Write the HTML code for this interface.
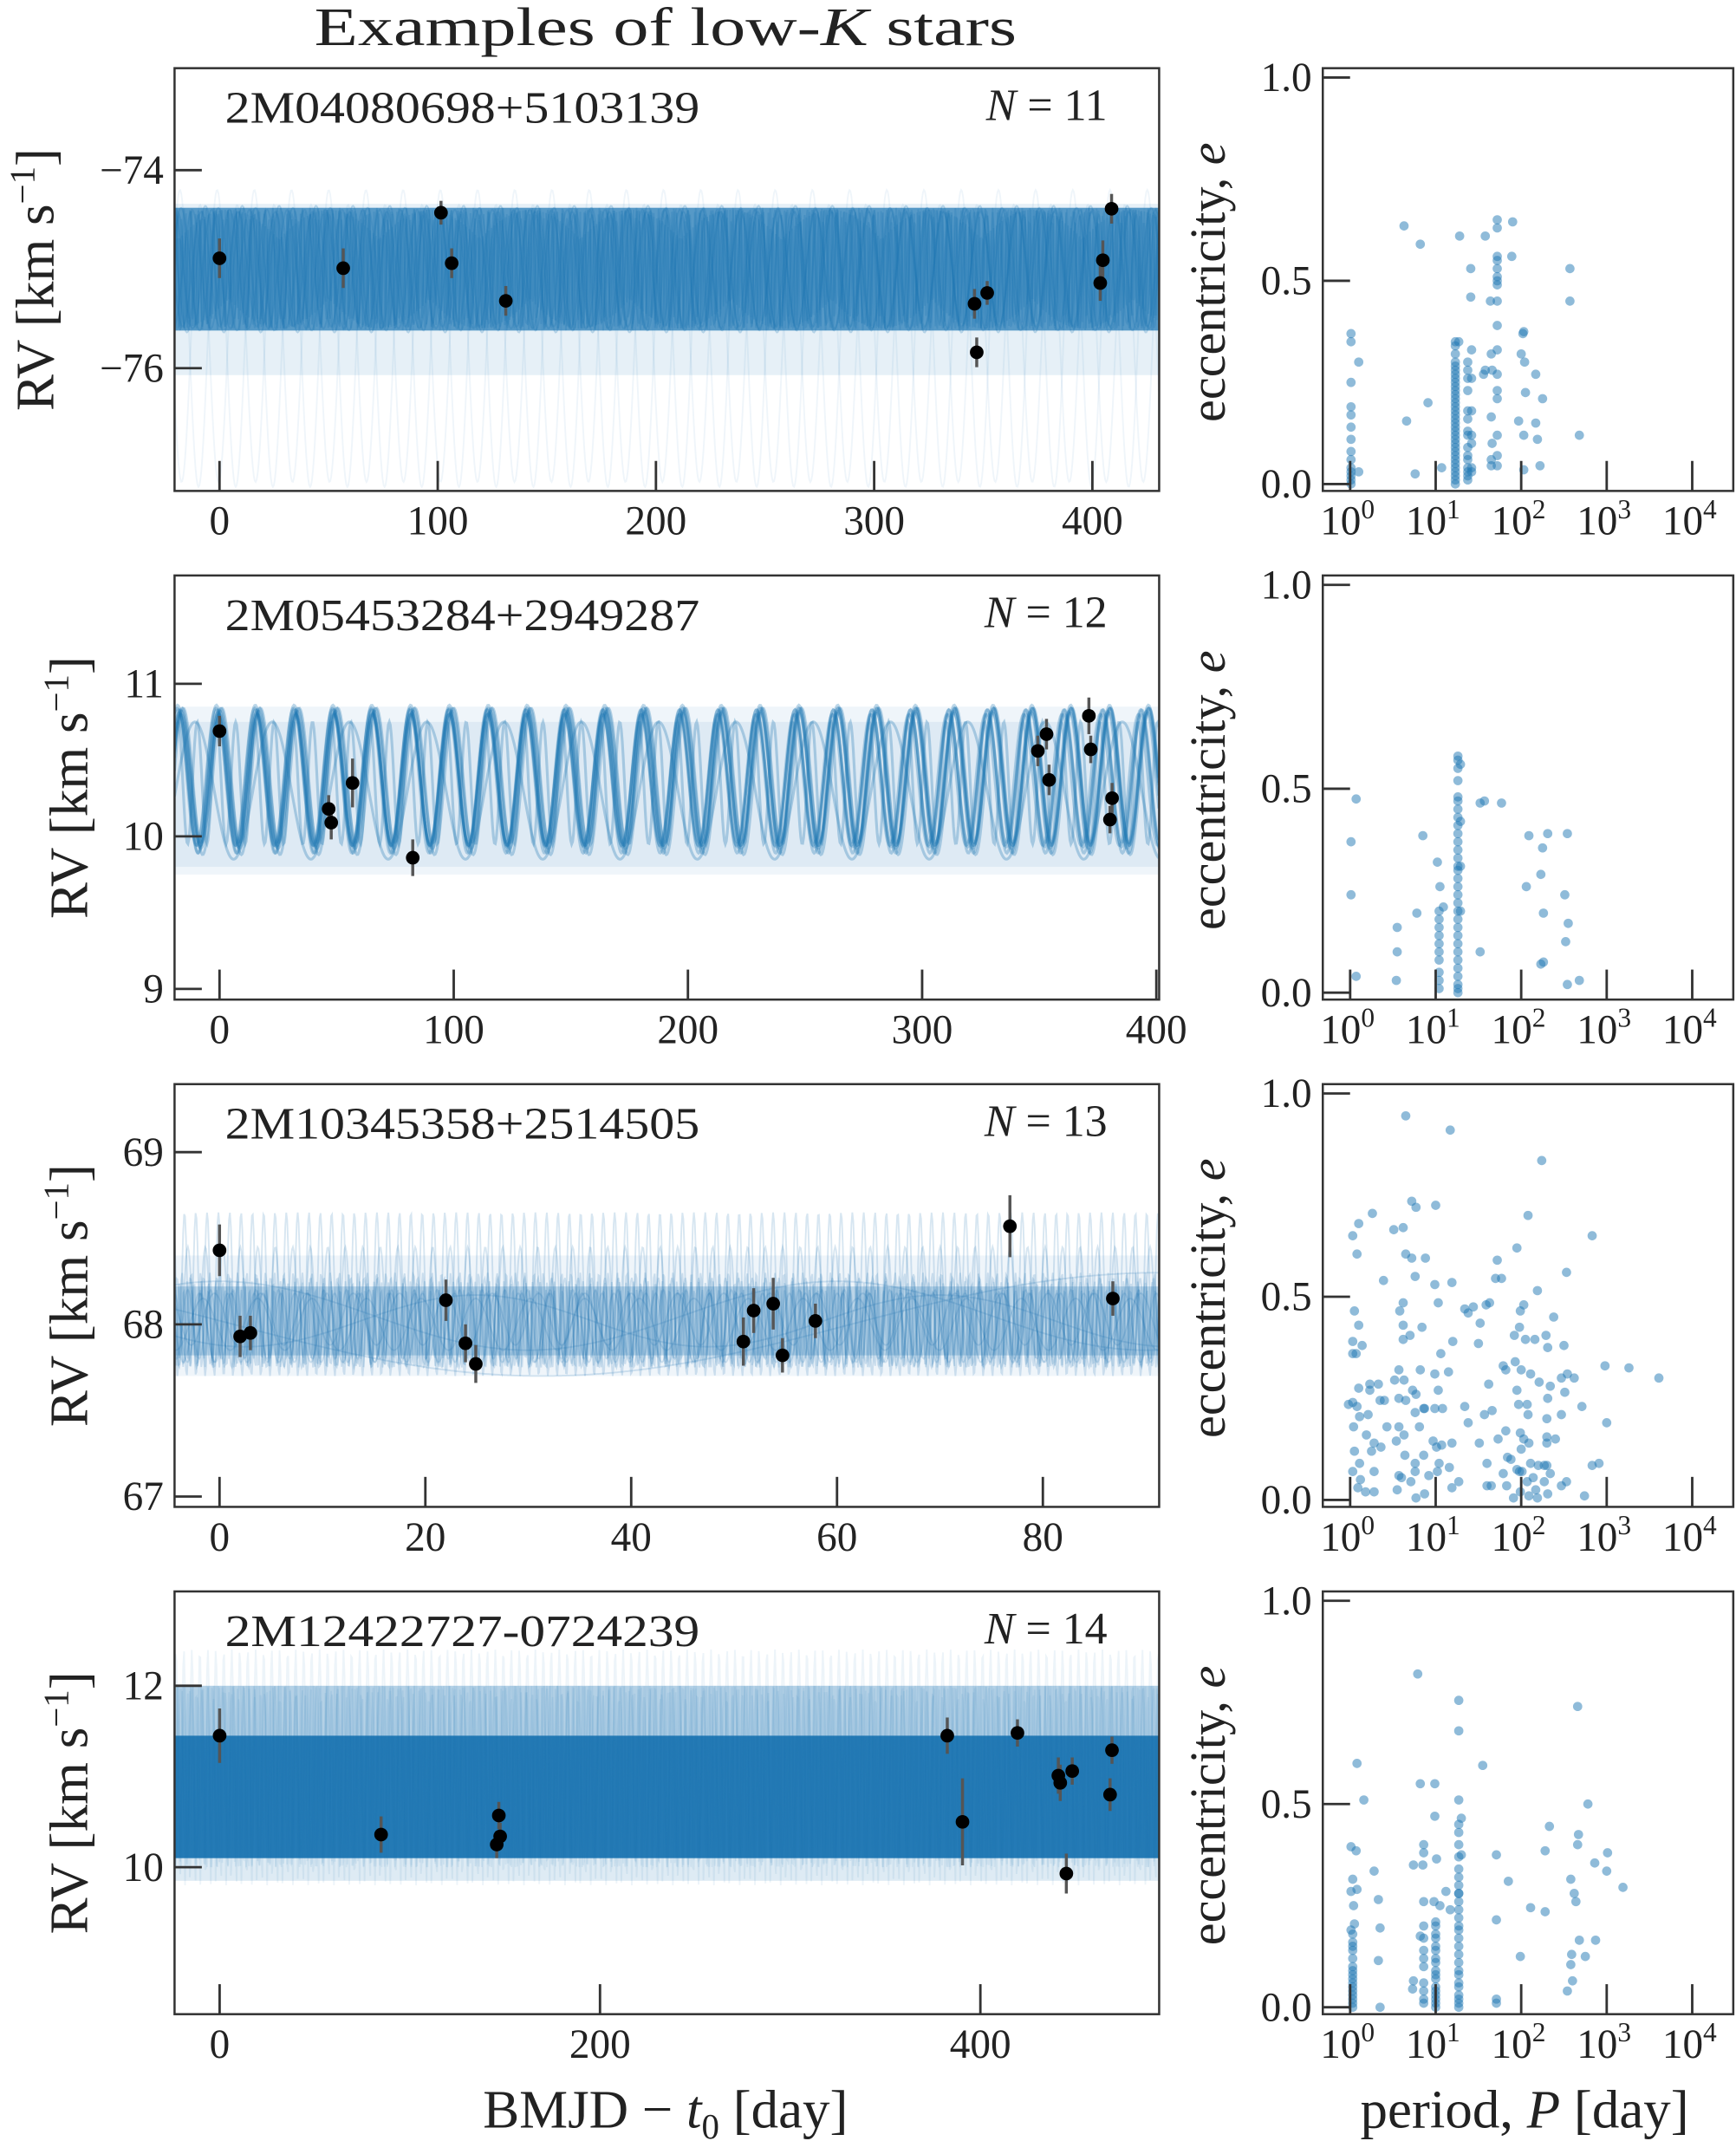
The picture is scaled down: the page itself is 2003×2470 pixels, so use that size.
<!DOCTYPE html>
<html><head><meta charset="utf-8">
<style>
html,body{margin:0;padding:0;background:#fff;}
svg{display:block;}
text{font-family:"Liberation Serif",serif;fill:#222;}
</style></head>
<body>
<svg id="fig" xmlns="http://www.w3.org/2000/svg" width="2003" height="2470" viewBox="0 0 1273 1570" preserveAspectRatio="none">
<text x="488" y="33" font-size="40" text-anchor="middle" textLength="515" lengthAdjust="spacingAndGlyphs">Examples of low-<tspan font-style="italic">K</tspan> stars</text>
<text x="488" y="1560" font-size="40" text-anchor="middle">BMJD − <tspan font-style="italic">t</tspan><tspan font-size="26" dy="8">0</tspan><tspan dy="-8"> [day]</tspan></text>
<text x="1118" y="1560" font-size="40" text-anchor="middle">period, <tspan font-style="italic">P</tspan> [day]</text>
<g id="plots"></g>
</svg>
<script>
// ---------- Data: RV observations ----------
const p1_t   = [0, 56.7, 101.5, 106.4, 131.2, 346, 351.8, 347, 404.8, 403.6, 408.8];
const p1_rv  = [-74.89, -74.99, -74.43, -74.94, -75.32, -75.35, -75.24, -75.84, -74.91, -75.14, -74.39];
const p1_err = [0.2, 0.2, 0.12, 0.15, 0.15, 0.15, 0.12, 0.15, 0.2, 0.18, 0.15];
const p2_t   = [0, 46.6, 47.7, 56.8, 82.5, 349.4, 353.1, 354.2, 371.2, 372, 381.1, 380.2];
const p2_rv  = [10.69, 10.18, 10.09, 10.35, 9.86, 10.56, 10.67, 10.37, 10.79, 10.57, 10.25, 10.11];
const p2_err = [0.1, 0.09, 0.11, 0.16, 0.12, 0.1, 0.1, 0.1, 0.12, 0.09, 0.1, 0.09];
const p3_t   = [0, 2, 3, 22, 23.9, 24.9, 50.9, 51.9, 53.8, 54.7, 57.9, 76.8, 86.8];
const p3_rv  = [68.43, 67.93, 67.95, 68.14, 67.89, 67.77, 67.90, 68.08, 68.12, 67.82, 68.02, 68.57, 68.15];
const p3_err = [0.15, 0.12, 0.1, 0.12, 0.11, 0.11, 0.14, 0.13, 0.15, 0.1, 0.1, 0.18, 0.1];
const p4_t   = [0, 84.9, 146.8, 147.5, 145.7, 382.6, 390.6, 419.5, 441, 442, 448.3, 445.2, 469.2, 468.2];
const p4_rv  = [11.45, 10.36, 10.57, 10.34, 10.25, 11.45, 10.50, 11.48, 11.01, 10.93, 11.06, 9.93, 11.29, 10.80];
const p4_err = [0.3, 0.2, 0.15, 0.15, 0.15, 0.2, 0.48, 0.15, 0.2, 0.2, 0.15, 0.22, 0.15, 0.18];

// ---------- Data: model sample bands and curves ----------
const p1_band = [-75.62, -74.38]; const p1_light = [-76.07, -74.34];
const p1_per = [17.1, 17.3, 16.9, 17.0, 17.2, 8.6, 5.7, 3.4, 2.1, 17.05, 16.95, 1.3];
const p1_amp = [0.62, 0.6, 0.64, 0.58, 0.6, 0.55, 0.6, 0.62, 0.58, 1.5, 1.4, 0.6];
const p1_phs = [0.2, 1.3, 2.4, 3.1, 4.6, 0.9, 2.2, 5.0, 1.7, 0.4, 3.3, 0.0];
const p1_off = [-75.0, -75.0, -75.0, -75.0, -75.0, -75.0, -75.0, -75.0, -75.0, -75.7, -75.75, -75.0];
const p2_band = [9.8, 10.75]; const p2_light = [9.75, 10.85];
const p2_per = [16.4, 16.45, 16.5, 16.55, 16.35, 16.6, 16.5, 16.42, 16.58, 16.48, 8.2, 33];
const p2_amp = [0.45, 0.47, 0.44, 0.46, 0.43, 0.45, 0.48, 0.42, 0.46, 0.45, 0.4, 0.45];
const p2_phs = [0.1, 0.4, -0.2, 0.3, 0.0, 0.6, -0.4, 0.2, 0.5, -0.1, 1.0, 2.0];
const p2_off = [10.38, 10.36, 10.4, 10.35, 10.37, 10.39, 10.36, 10.38, 10.4, 10.37, 10.35, 10.3];
const p3_band = [67.82, 68.22]; const p3_light = [67.7, 68.4];
const p3_per = [0.9, 1.3, 2.2, 3.1, 4.5, 1.7, 0.7, 60, 120, 45, 2.6, 5.3, 1.1, 0.8];
const p3_amp = [0.3, 0.25, 0.2, 0.2, 0.15, 0.35, 0.25, 0.2, 0.3, 0.15, 0.2, 0.15, 0.45, 0.2];
const p3_phs = [0.3, 1.2, 2.5, 4.0, 0.7, 5.1, 3.3, 0.0, 1.5, 2.8, 4.4, 1.9, 0.6, 2.2];
const p3_off = [68.0, 68.02, 68.0, 67.98, 68.03, 68.1, 68.0, 68.05, 68.0, 68.02, 67.98, 68.0, 68.2, 68.0];
const p4_band = [10.1, 11.45]; const p4_light = [9.85, 12.0];
const p4_per = [3.1, 2.7, 4.2, 5.5];
const p4_amp = [1.0, 1.1, 1.2, 1.0];
const p4_phs = [0.0, 1.5, 3.0, 4.5];
const p4_off = [11.0, 10.9, 11.2, 11.0];

// ---------- Data: period-eccentricity samples (log10 P, e) ----------
const s1_logP = [0.01,0.01,0.01,0.01,0.01,0.01,0.01,0.01,0.01,0.01,0.01,0.01,0.01,0.01,0.1,0.1,0.66,0.91,0.76,1.07,
1.23,1.23,1.23,1.23,1.23,1.23,1.23,1.23,1.23,1.23,1.23,1.23,1.23,1.23,1.23,1.23,1.23,1.23,1.23,1.23,1.23,1.23,1.23,1.23,1.23,1.23,1.23,1.23,1.23,1.23,1.23,1.23,1.23,1.23,1.27,
1.375,1.375,1.375,1.375,1.375,1.375,1.375,1.375,1.375,1.375,1.375,1.375,1.375,1.375,1.375,
1.42,1.42,1.42,1.42,1.42,1.42,1.42,1.41,1.41,1.28,0.63,0.82,1.58,
1.56,1.58,1.65,1.65,1.66,1.65,1.65,1.66,1.64,
1.72,1.72,1.72,1.72,1.72,1.72,1.72,1.72,1.72,1.72,1.72,1.72,1.72,1.72,1.72,1.72,1.72,
1.90,1.89,1.97,2.00,2.02,2.03,2.04,2.05,2.03,2.03,2.17,2.17,2.19,2.22,2.25,2.68,2.57,2.57];
const s1_e = [0.37,0.35,0.25,0.19,0.17,0.14,0.11,0.08,0.06,0.04,0.03,0.02,0.01,0.0,0.30,0.03,0.155,0.20,0.025,0.04,
0.35,0.34,0.32,0.30,0.29,0.28,0.27,0.26,0.25,0.24,0.23,0.22,0.21,0.20,0.19,0.18,0.17,0.16,0.15,0.14,0.13,0.12,0.11,0.10,0.09,0.08,0.07,0.06,0.05,0.04,0.03,0.02,0.01,0.0,0.35,
0.30,0.28,0.26,0.23,0.18,0.16,0.13,0.12,0.09,0.07,0.06,0.04,0.03,0.02,0.01,
0.33,0.26,0.18,0.12,0.10,0.04,0.03,0.53,0.46,0.61,0.635,0.59,0.61,
0.27,0.28,0.32,0.165,0.10,0.06,0.045,0.28,0.45,
0.65,0.63,0.56,0.55,0.53,0.51,0.50,0.49,0.45,0.39,0.33,0.27,0.23,0.21,0.12,0.07,0.045,
0.645,0.56,0.155,0.32,0.37,0.375,0.30,0.225,0.12,0.035,0.27,0.15,0.11,0.045,0.21,0.12,0.53,0.45];
const s2_logP = [0.07,0.01,0.01,0.07,0.55,0.55,0.54,0.78,0.85,1.02,1.05,1.09,
1.04,1.04,1.04,1.04,1.04,1.04,1.04,1.04,1.04,1.04,
1.26,1.26,1.26,1.26,1.26,1.26,1.26,1.26,1.26,1.26,1.26,1.26,1.26,1.26,1.26,1.26,1.26,1.26,1.26,1.26,1.26,1.26,1.26,1.26,1.26,1.26,1.26,1.26,1.26,1.26,1.26,1.29,1.29,1.29,1.29,
1.52,1.57,1.77,1.52,2.09,2.31,2.54,2.25,2.23,2.06,2.51,2.26,2.55,2.52,2.26,2.23,2.54,2.68];
const s2_e = [0.475,0.37,0.24,0.04,0.16,0.10,0.03,0.195,0.385,0.32,0.26,0.21,
0.20,0.18,0.16,0.14,0.12,0.10,0.08,0.05,0.03,0.01,
0.58,0.57,0.55,0.52,0.48,0.47,0.45,0.43,0.41,0.39,0.37,0.35,0.33,0.31,0.30,0.28,0.26,0.24,0.22,0.20,0.18,0.16,0.14,0.12,0.10,0.08,0.06,0.04,0.02,0.01,0.0,0.56,0.42,0.31,0.2,
0.465,0.47,0.465,0.10,0.385,0.39,0.39,0.355,0.29,0.26,0.24,0.195,0.17,0.125,0.075,0.07,0.02,0.03];
const s3_logP = [0.65,1.17,2.24,0.72,0.77,1.00,0.26,2.08,0.10,0.03,0.51,0.62,2.83,1.95,0.08,0.65,0.72,0.88,1.72,1.70,1.77,2.53,0.39,0.76,0.99,1.19,2.19,0.05,0.58,0.62,1.03,1.34,1.38,1.44,1.59,1.63,1.99,2.03,2.38,0.10,0.62,0.84,1.52,0.03,0.14,0.03,0.07,0.62,0.70,1.06,1.20,1.50,1.92,1.98,2.05,2.16,2.29,2.31,2.50,2.98,3.26,3.61,0.57,0.82,0.99,1.15,0.52,0.63,0.73,0.10,0.23,0.23,0.33,1.03,1.82,1.79,1.93,2.00,2.11,2.21,2.34,2.47,2.54,2.62,1.62,2.51,0.03,0.08,0.35,0.40,0.57,0.65,0.77,0.87,0.99,1.08,1.95,1.97,2.07,2.31,2.71,-0.02,0.11,0.21,0.43,0.57,0.63,0.76,0.81,0.86,1.34,1.38,1.57,1.66,2.08,2.30,2.47,3.00,0.04,0.19,0.28,0.36,0.05,0.11,0.25,0.54,0.64,0.76,0.86,0.97,1.01,1.07,1.19,1.51,1.60,1.73,1.82,1.84,1.88,1.99,2.03,2.09,2.00,2.11,2.30,2.30,2.40,2.83,2.91,0.03,0.12,0.09,0.18,0.28,0.28,0.55,0.57,0.60,0.71,0.76,0.77,0.87,0.92,1.02,1.04,1.16,1.19,1.27,1.60,1.65,1.79,1.83,1.91,1.95,1.98,1.99,2.01,2.07,2.09,2.14,2.17,2.20,2.27,2.30,2.34,2.27,2.31,2.47,2.53,2.74,2.19];
const s3_e = [0.945,0.91,0.835,0.735,0.72,0.725,0.705,0.70,0.68,0.65,0.665,0.67,0.65,0.62,0.605,0.605,0.595,0.595,0.59,0.545,0.545,0.56,0.54,0.55,0.53,0.535,0.515,0.465,0.465,0.485,0.485,0.47,0.46,0.475,0.48,0.485,0.465,0.48,0.45,0.43,0.43,0.425,0.435,0.39,0.38,0.36,0.36,0.395,0.405,0.36,0.39,0.385,0.405,0.425,0.395,0.395,0.405,0.375,0.38,0.33,0.325,0.30,0.32,0.32,0.31,0.315,0.295,0.295,0.27,0.275,0.285,0.27,0.285,0.27,0.32,0.33,0.34,0.32,0.31,0.29,0.28,0.30,0.31,0.30,0.285,0.265,0.24,0.23,0.245,0.245,0.25,0.245,0.26,0.225,0.225,0.225,0.27,0.235,0.235,0.25,0.23,0.235,0.205,0.21,0.18,0.18,0.16,0.215,0.18,0.225,0.23,0.19,0.21,0.22,0.21,0.20,0.21,0.19,0.18,0.16,0.14,0.13,0.12,0.09,0.12,0.145,0.11,0.09,0.11,0.145,0.13,0.135,0.14,0.14,0.09,0.15,0.17,0.105,0.10,0.165,0.15,0.14,0.125,0.09,0.155,0.14,0.15,0.085,0.09,0.07,0.05,0.03,0.02,0.07,0.02,0.025,0.06,0.055,0.045,0.07,0.005,0.015,0.06,0.07,0.09,0.08,0.03,0.045,0.035,0.035,0.065,0.035,0.005,0.075,0.07,0.02,0.07,0.045,0.01,0.055,0.025,0.085,0.085,0.085,0.065,0.045,0.015,0.035,0.045,0.01,0.005];
const s4_logP = [0.79,1.27,2.66,1.27,0.08,1.55,0.16,0.82,0.99,1.27,2.78,0.99,1.30,2.33,2.67,2.66,0.01,0.07,0.86,0.86,1.01,2.28,3.01,1.30,0.74,0.85,1.71,2.86,3.00,0.28,0.03,0.08,0.01,1.85,2.58,3.19,1.12,0.33,1.27,0.86,0.98,1.05,2.62,2.64,0.04,2.11,2.28,1.17,1.71,0.05,0.35,0.82,0.01,2.68,2.87,0.33,1.99,2.75,2.59,2.58,0.74,0.73,2.60,2.54,0.35,1.71,1.71,
0.03,0.03,0.03,0.03,0.03,0.03,0.03,0.03,0.03,0.03,0.03,0.03,0.03,0.03,0.03,0.03,
1.0,1.0,1.0,1.0,1.0,1.0,1.0,1.0,1.0,1.0,1.0,1.0,1.0,1.0,1.0,1.0,1.0,
0.86,0.86,0.86,0.86,0.86,0.86,0.86,0.86,0.86,
1.27,1.27,1.27,1.27,1.27,1.27,1.27,1.27,1.27,1.27,1.27,1.27,1.27,1.27,1.27,1.27,1.27,1.27,1.27,1.27,1.27,1.27,1.27,1.27,1.27];
const s4_e = [0.82,0.755,0.74,0.68,0.60,0.595,0.51,0.55,0.55,0.51,0.50,0.47,0.465,0.445,0.425,0.40,0.395,0.385,0.40,0.38,0.365,0.385,0.38,0.375,0.35,0.35,0.375,0.355,0.335,0.335,0.315,0.29,0.285,0.31,0.315,0.295,0.285,0.265,0.28,0.26,0.26,0.25,0.28,0.26,0.25,0.245,0.235,0.24,0.215,0.205,0.195,0.175,0.19,0.165,0.165,0.115,0.125,0.125,0.13,0.105,0.065,0.045,0.065,0.04,0.0,0.02,0.01,
0.18,0.16,0.15,0.14,0.12,0.10,0.09,0.08,0.07,0.06,0.05,0.04,0.03,0.02,0.01,0.0,
0.21,0.20,0.18,0.17,0.15,0.14,0.12,0.11,0.09,0.08,0.07,0.05,0.04,0.03,0.02,0.01,0.0,
0.20,0.17,0.14,0.12,0.10,0.06,0.04,0.02,0.01,
0.45,0.43,0.40,0.37,0.34,0.32,0.30,0.28,0.26,0.24,0.22,0.20,0.19,0.17,0.15,0.13,0.11,0.09,0.08,0.06,0.05,0.03,0.02,0.01,0.0];

// ---------- Tick labels ----------
const p1_xticks = [0,100,200,300,400]; const p1_yticks = [-74,-76];
const p2_xticks = [0,100,200,300,400]; const p2_yticks = [9,10,11];
const p3_xticks = [0,20,40,60,80];     const p3_yticks = [67,68,69];
const p4_xticks = [0,200,400];         const p4_yticks = [10,12];
const eTicks = [0.0, 0.5, 1.0];
const eTickLabels = ['0.0','0.5','1.0'];
const logTicks = [0,1,2,3,4];

const names = ['2M04080698+5103139','2M05453284+2949287','2M10345358+2514505','2M12422727-0724239'];
const nobs = ['11','12','13','14'];

const NS = 'http://www.w3.org/2000/svg';
const root = document.getElementById('plots');
const BLUE = '#1f77b4';
function mk(tag, attrs, parent){ const e=document.createElementNS(NS,tag); for(const k in attrs) e.setAttribute(k,attrs[k]); (parent||root).appendChild(e); return e; }

const panels = [
 {top:50, bot:360, xmin:-20.6, xmax:430.6, ymin:-77.24, ymax:-72.97, t:p1_t, rv:p1_rv, err:p1_err, band:p1_band, light:p1_light, per:p1_per, amp:p1_amp, phs:p1_phs, off:p1_off, xt:p1_xticks, yt:p1_yticks, ylx:25, bandOp:0.72, lightOp:0.11, curveOp:0.25, fmt:v=>(v<0?'−':'')+Math.abs(v)},
 {top:422, bot:733, xmin:-19.2, xmax:401.2, ymin:8.93, ymax:11.71, t:p2_t, rv:p2_rv, err:p2_err, band:p2_band, light:p2_light, per:p2_per, amp:p2_amp, phs:p2_phs, off:p2_off, xt:p2_xticks, yt:p2_yticks, ylx:50, bandOp:0.08, lightOp:0.07, curveOp:0.3, fmt:v=>String(v)},
 {top:795, bot:1105, xmin:-4.37, xmax:91.3, ymin:66.94, ymax:69.395, t:p3_t, rv:p3_rv, err:p3_err, band:p3_band, light:p3_light, per:p3_per, amp:p3_amp, phs:p3_phs, off:p3_off, xt:p3_xticks, yt:p3_yticks, ylx:50, bandOp:0.25, lightOp:0.07, curveOp:0.18, fmt:v=>String(v)},
 {top:1167, bot:1477, xmin:-23.7, xmax:494, ymin:8.38, ymax:13.04, t:p4_t, rv:p4_rv, err:p4_err, band:p4_band, light:p4_light, per:p4_per, amp:p4_amp, phs:p4_phs, off:p4_off, xt:p4_xticks, yt:p4_yticks, ylx:50, bandOp:0.97, lightOp:0.15, curveOp:0.08, fmt:v=>String(v)}
];
const sc = [[s1_logP,s1_e],[s2_logP,s2_e],[s3_logP,s3_e],[s4_logP,s4_e]];

panels.forEach((P,i)=>{
  const L=128, R=850;
  const X = v => L + (v-P.xmin)/(P.xmax-P.xmin)*(R-L);
  const Y = v => P.bot - (v-P.ymin)/(P.ymax-P.ymin)*(P.bot-P.top);
  const g = mk('g',{});
  
  
  const cp = mk('clipPath',{id:'clip'+i},g);
  mk('rect',{x:L,y:P.top,width:R-L,height:P.bot-P.top},cp);
  const mg = mk('g',{'clip-path':'url(#clip'+i+')'},g);
  
  
  const lb = mk('rect',{x:L,y:Y(P.light[1]),width:R-L,height:Y(P.light[0])-Y(P.light[1]),fill:BLUE,opacity:P.lightOp},mg);
  
  
  const bb = mk('rect',{x:L,y:Y(P.band[1]),width:R-L,height:Y(P.band[0])-Y(P.band[1]),fill:BLUE,opacity:P.bandOp},mg);
  
  
  if(i===3){
    const ub = mk('rect',{x:L,y:Y(12.0),width:R-L,height:Y(11.45)-Y(12.0),fill:BLUE,opacity:0.22},mg);
    
    
  }
  P.per.forEach((per,k)=>{
    let d='';
    for(let px=L; px<=R; px+=0.7){
      const t = P.xmin + (px-L)/(R-L)*(P.xmax-P.xmin);
      const v = P.off[k] + P.amp[k]*Math.cos(2*Math.PI*t/per + P.phs[k]);
      d += (d?'L':'M')+px.toFixed(1)+','+Y(v).toFixed(1);
    }
    const op = (i===0 && P.amp[k]>1) ? 0.07 : P.curveOp;
    const c = mk('path',{d:d,fill:'none',stroke:BLUE,'stroke-width':i===1?2:1.2,opacity:op},mg);
    
    
  });
  const fr = mk('rect',{x:L,y:P.top,width:R-L,height:P.bot-P.top,fill:'none',stroke:'#333','stroke-width':1.6},g);
  
  
  P.xt.forEach(v=>{
    const x=X(v);
    const tk = mk('line',{x1:x,x2:x,y1:P.bot,y2:P.bot-22,stroke:'#333','stroke-width':1.8},g);
    
    
    const tl = mk('text',{x:x,y:P.bot+32,'font-size':30,'text-anchor':'middle'},g);
    tl.textContent=String(v);
    
    
  });
  P.yt.forEach(v=>{
    const y=Y(v);
    const tk = mk('line',{x1:L,x2:L+20,y1:y,y2:y,stroke:'#333','stroke-width':1.8},g);
    
    
    const tl = mk('text',{x:L-8,y:y+10,'font-size':30,'text-anchor':'end'},g);
    tl.textContent=P.fmt(v);
    
    
  });
  P.t.forEach((t,k)=>{
    const eb = mk('line',{x1:X(t),x2:X(t),y1:Y(P.rv[k]-P.err[k]),y2:Y(P.rv[k]+P.err[k]),stroke:'#555','stroke-width':2.2},g);
    
    
  });
  P.t.forEach((t,k)=>{
    const pt = mk('circle',{cx:X(t),cy:Y(P.rv[k]),r:5,fill:'#000'},g);
    
    
  });
  const nm = mk('text',{x:165,y:P.top+40,'font-size':33,textLength:348,lengthAdjust:'spacingAndGlyphs'},g);
  nm.textContent=names[i];
  
  
  const nl = mk('text',{x:812,y:P.top+38,'font-size':33,'text-anchor':'end'},g);
  nl.innerHTML='<tspan font-style="italic">N</tspan> = '+nobs[i];
  
  
  const cy=(P.top+P.bot)/2;
  const yl = mk('text',{x:0,y:0,'font-size':40,'text-anchor':'middle',transform:'translate('+(P.ylx+14)+','+cy+') rotate(-90)'},g);
  yl.innerHTML='RV [km s<tspan font-size="26" dy="-14">−1</tspan><tspan dy="14">]</tspan>';
  
  

  const RL=970, RR=1271, lmin=-0.32, lmax=4.48, emin=-0.017, emax=1.023;
  const XS = v => RL + (v-lmin)/(lmax-lmin)*(RR-RL);
  const YS = v => P.bot - (v-emin)/(emax-emin)*(P.bot-P.top);
  const rg = mk('g',{});
  
  
  const [lp, ee] = sc[i];
  lp.forEach((v,k)=>{
    const c = mk('circle',{cx:XS(v),cy:YS(ee[k]),r:3.4,fill:BLUE,opacity:0.5},rg);
    
    
  });
  const rf = mk('rect',{x:RL,y:P.top,width:RR-RL,height:P.bot-P.top,fill:'none',stroke:'#333','stroke-width':1.6},rg);
  
  
  logTicks.forEach(v=>{
    const x=XS(v);
    const tk = mk('line',{x1:x,x2:x,y1:P.bot,y2:P.bot-22,stroke:'#333','stroke-width':1.8},rg);
    
    
    const tl = mk('text',{x:x-2,y:P.bot+32,'font-size':30,'text-anchor':'middle'},rg);
    tl.innerHTML='10<tspan font-size="20" dy="-12">'+v+'</tspan>';
    
    
  });
  eTicks.forEach((v,k)=>{
    const y=YS(v);
    const tk = mk('line',{x1:RL,x2:RL+20,y1:y,y2:y,stroke:'#333','stroke-width':1.8},rg);
    
    
    const tl = mk('text',{x:RL-8,y:y+10,'font-size':30,'text-anchor':'end'},rg);
    tl.textContent=eTickLabels[k];
    
    
  });
  const el = mk('text',{x:0,y:0,'font-size':37,'text-anchor':'middle',transform:'translate(898,'+(cy+2)+') rotate(-90)'},rg);
  el.innerHTML='eccentricity, <tspan font-style="italic">e</tspan>';
  
  
});
</script>
</body></html>
